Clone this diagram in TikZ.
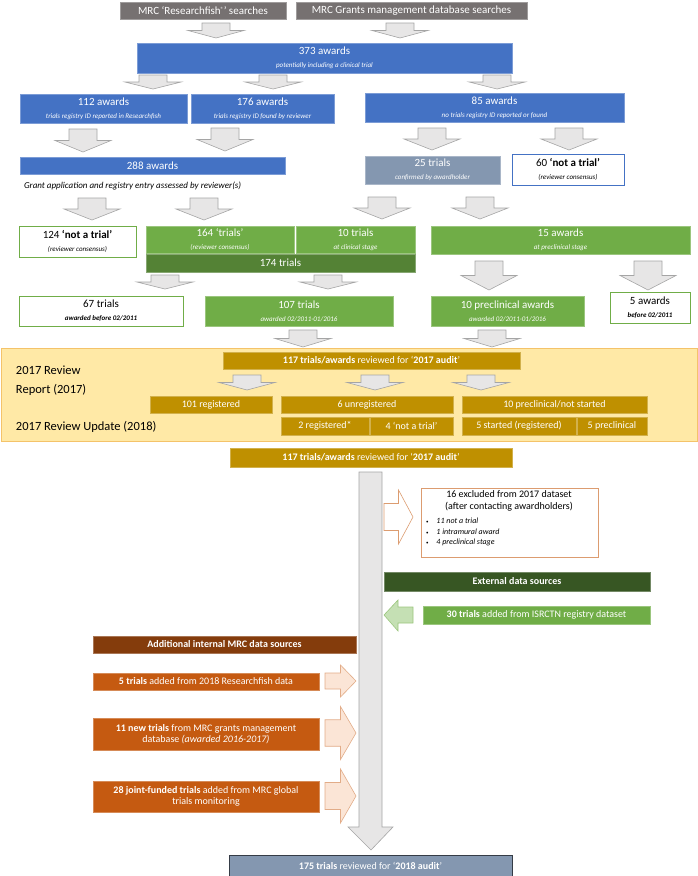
\documentclass[tikz,border=0pt]{standalone}
\usepackage{fontspec}
\setmainfont{Carlito}
\definecolor{mblue}{HTML}{4472C4}
\definecolor{mgreen}{HTML}{70AD47}
\definecolor{dgreen}{HTML}{548235}
\definecolor{xgreen}{HTML}{375623}
\definecolor{gold}{HTML}{BF9000}
\definecolor{orng}{HTML}{C55A11}
\definecolor{brwn}{HTML}{843C0C}
\definecolor{gtop}{HTML}{767171}
\definecolor{slate}{HTML}{8497B0}
\definecolor{panel}{HTML}{FFE9A6}
\definecolor{panelb}{HTML}{F4C36A}
\definecolor{arrf}{HTML}{E7E6E6}
\definecolor{arrd}{HTML}{A5A5A5}
\definecolor{peach}{HTML}{FBE5D6}
\definecolor{lgreen}{HTML}{C5E0B4}
\tikzset{
 bx/.style={inner sep=0pt,outer sep=0pt,align=center,font=\fontsize{10}{11}\selectfont},
 big/.style={font=\fontsize{11}{12}\selectfont},
 fb/.style={bx,fill=#1,text=white,draw=#1!70!white},
 wb/.style={bx,fill=white,draw=#1,text=black},
 garr/.style={fill=arrf,draw=arrd,line width=0.6pt},
}
\newcommand\sm[1]{{\fontsize{7}{8}\selectfont\itshape #1}}
\newcommand\bxn[7]{\node[#6,minimum width={(#4-#2)*1pt},minimum height={(#5-#3)*1pt}] (#1) at ({(#2+#4)/2},{(#3+#5)/2}) {#7};}
\newcommand\dar[4]{\draw[garr] ({#1-#4/4},#2) -- ({#1+#4/4},#2) -- ({#1+#4/4},{(#2+#3)/2}) -- ({#1+#4/2},{(#2+#3)/2}) -- (#1,#3) -- ({#1-#4/2},{(#2+#3)/2}) -- ({#1-#4/4},{(#2+#3)/2}) -- cycle;}
\newcommand\rar[5]{\draw[#5] (#1,{#3-#4/4}) -- ({(#1+#2)/2},{#3-#4/4}) -- ({(#1+#2)/2},{#3-#4/2}) -- (#2,#3) -- ({(#1+#2)/2},{#3+#4/2}) -- ({(#1+#2)/2},{#3+#4/4}) -- (#1,{#3+#4/4}) -- cycle;}
\begin{document}
\begin{tikzpicture}[x=1pt,y=-1pt]
\useasboundingbox (0,0) rectangle (698,876);
\bxn{rf}{120}{2}{286}{19}{fb=gtop,big}{MRC `Researchfish\raisebox{0.5ex}{\fontsize{6}{6}\selectfont ®}' searches}
\bxn{gm}{296}{2}{527}{19}{fb=gtop,big}{MRC Grants management database searches}
\dar{216}{23}{38}{56}
\dar{400}{23}{38}{56}
\bxn{a373}{137}{43}{512}{73}{fb=mblue,big}{373 awards\\[1pt]\sm{potentially including a clinical trial}}
\dar{153}{75}{89}{56}
\dar{273}{75}{89}{56}
\dar{497}{75}{89}{56}
\bxn{a112}{20}{94}{187}{123}{fb=mblue,big}{112 awards\\[1pt]\sm{trials registry ID reported in Researchfish}}
\bxn{a176}{191}{94}{334}{123}{fb=mblue,big}{176 awards\\[1pt]\sm{trials registry ID found by reviewer}}
\bxn{a85}{365}{93}{624}{122}{fb=mblue,big}{85 awards\\[1pt]\sm{no trials registry ID reported or found}}
\dar{83}{129}{152}{56}
\dar{225}{128}{151}{56}
\dar{432}{128}{150}{56}
\dar{569}{128}{150}{56}
\bxn{a288}{20}{157}{285}{174}{fb=mblue,big}{288 awards}
\node[bx,anchor=west,font=\fontsize{9}{10}\selectfont\itshape] (gal) at (24,186) {Grant application and registry entry assessed by reviewer(s)};
\bxn{t25}{365}{156}{500}{184}{fb=slate,big}{25 trials\\[1pt]\sm{confirmed by awardholder}}
\bxn{n60}{512}{154}{624}{185}{wb=mblue,big}{60 \textbf{`not a trial'}\\[1pt]\sm{(reviewer consensus)}}
\dar{92}{198}{220}{56}
\dar{204}{198}{220}{56}
\dar{382}{197}{219}{56}
\dar{480}{197}{219}{56}
\bxn{n124}{19}{226}{136}{257}{wb=mgreen,big}{124 \textbf{`not a trial'}\\[1pt]\sm{(reviewer consensus)}}
\bxn{t164}{146}{226}{294}{253}{fb=mgreen,big}{164 `trials'\\[1pt]\sm{(reviewer consensus)}}
\bxn{t10}{296}{226}{415}{253}{fb=mgreen,big}{10 trials\\[1pt]\sm{at clinical stage}}
\bxn{t174}{146}{254}{415}{272}{fb=dgreen,big}{174 trials}
\bxn{a15}{431}{226}{690}{254}{fb=mgreen,big}{15 awards\\[1pt]\sm{at preclinical stage}}
\dar{165}{275}{289}{56}
\dar{328}{275}{289}{56}
\dar{489}{261}{290}{56}
\dar{648}{261}{290}{56}
\bxn{t67}{19}{296}{183}{326}{wb=mgreen,big}{67 trials\\[1pt]{\fontsize{7}{8}\selectfont\bfseries\itshape awarded before 02/2011}}
\bxn{t107}{205}{296}{393}{326}{fb=mgreen,big}{107 trials\\[1pt]\sm{awarded 02/2011-01/2016}}
\bxn{p10}{431}{296}{584}{326}{fb=mgreen,big}{10 preclinical awards\\[1pt]\sm{awarded 02/2011-01/2016}}
\bxn{a5}{610}{292}{690}{323}{wb=mgreen,big}{5 awards\\[1pt]{\fontsize{7}{8}\selectfont\bfseries\itshape before 02/2011}}
\dar{303}{330}{347}{56}
\dar{492}{330}{347}{56}
\bxn{pan}{1}{348}{697}{441}{bx,fill=panel,draw=panelb}{}
\bxn{r117}{223}{352}{520}{369}{fb=gold}{\textbf{117 trials/awards} reviewed for `\textbf{2017 audit}'}
\node[bx,anchor=north west,align=left,font=\fontsize{12.5}{19}\selectfont] (rr) at (16,366) {2017 Review\\Report (2017)};
\node[bx,anchor=west,font=\fontsize{12.5}{14}\selectfont] (ru) at (16,427) {2017 Review Update (2018)};
\dar{247}{375}{390}{56}
\dar{375}{375}{390}{56}
\dar{481}{375}{390}{56}
\bxn{r101}{150}{396}{272}{413}{fb=gold}{101 registered}
\bxn{u6}{281}{396}{453}{413}{fb=gold}{6 unregistered}
\bxn{p10b}{462}{396}{647}{413}{fb=gold}{10 preclinical/not started}
\bxn{r2}{281}{417}{369}{435}{fb=gold}{2 registered*}
\bxn{n4}{370}{417}{453}{435}{fb=gold}{4 `not a trial'}
\bxn{s5}{462}{417}{576}{435}{fb=gold}{5 started (registered)}
\bxn{p5}{577}{417}{647}{435}{fb=gold}{5 preclinical}
\bxn{r117b}{230}{448}{512}{467}{fb=gold}{\textbf{117 trials/awards} reviewed for `\textbf{2017 audit}'}
\draw[garr] (359,472) -- (382,472) -- (382,827) -- (393,827) -- (371,850) -- (348,827) -- (359,827) -- cycle;
\rar{384}{413}{517}{54}{fill=white,draw=orng!60,line width=0.6pt}
\bxn{ex16}{421}{488}{598}{557}{wb=orng!60}{}
\node[bx,anchor=north,font=\fontsize{10}{12}\selectfont] (ext) at (509,491) {16 excluded from 2017 dataset\\(after contacting awardholders)};
\node[bx,anchor=north west,align=left,font=\fontsize{8}{10.5}\selectfont\itshape] (exl) at (426,518) {{\upshape\tiny\textbullet}\quad 11 not a trial\\{\upshape\tiny\textbullet}\quad 1 intramural award\\{\upshape\tiny\textbullet}\quad 4 preclinical stage};
\bxn{eds}{384}{572}{650}{591}{fb=xgreen}{\textbf{External data sources}}
\draw[fill=lgreen,draw=mgreen!70,line width=0.6pt] (384,615) -- (398,600) -- (398,607) -- (413,607) -- (413,623) -- (398,623) -- (398,631) -- cycle;
\bxn{t30}{423}{606}{650}{624}{fb=mgreen}{\textbf{30 trials} added from ISRCTN registry dataset}
\bxn{aid}{93}{636}{356}{653}{fb=brwn}{\textbf{Additional internal MRC data sources}}
\bxn{t5}{93}{673}{319}{690}{fb=orng}{\textbf{5 trials} added from 2018 Researchfish data}
\rar{325}{356}{681}{32}{fill=peach,draw=orng!50,line width=0.6pt}
\bxn{t11}{93}{718}{319}{750}{fb=orng}{\textbf{11 new trials} from MRC grants management\\database \textit{(awarded 2016-2017)}}
\rar{325}{356}{733}{53}{fill=peach,draw=orng!50,line width=0.6pt}
\bxn{t28}{93}{781}{319}{812}{fb=orng}{\textbf{28 joint-funded trials} added from MRC global\\trials monitoring}
\rar{325}{356}{796}{54}{fill=peach,draw=orng!50,line width=0.6pt}
\bxn{t175}{229}{855}{512}{876}{bx,fill=slate,draw=slate!40!black,text=white}{\textbf{175 trials} reviewed for `\textbf{2018 audit}'}
\end{tikzpicture}
\end{document}
